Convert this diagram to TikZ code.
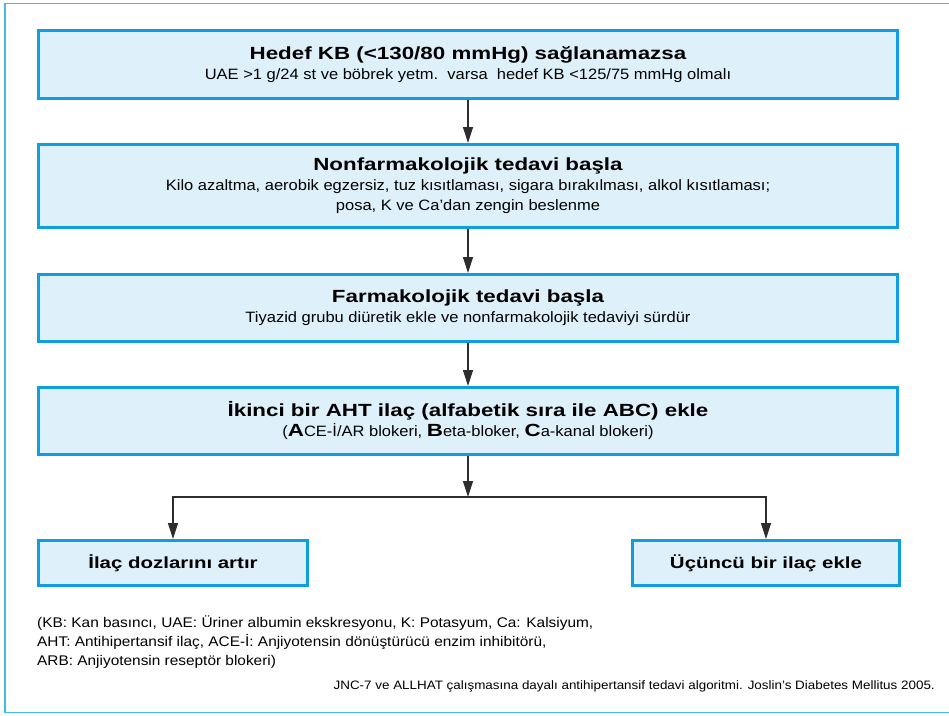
\documentclass[tikz,border=0pt]{standalone}
\usepackage{fontspec}
\setmainfont[FakeStretch=1.1]{Liberation Sans}
\newfontfamily\headfont[FakeStretch=1.27]{Liberation Sans}
\usetikzlibrary{arrows.meta}

\definecolor{framecol}{RGB}{70,185,235}
\definecolor{boxline}{RGB}{15,158,225}
\definecolor{boxfill}{RGB}{222,240,250}
\definecolor{linkcol}{RGB}{45,45,45}

\newcommand{\headsize}{\headfont\bfseries\fontsize{17.6}{20}\selectfont}
\newcommand{\smallhead}{\headfont\bfseries\fontsize{16.1}{19}\selectfont}
\newcommand{\bodysize}{\fontsize{15}{20}\selectfont}

\begin{document}
\begin{tikzpicture}[x=1pt,y=-1pt,
  stepbox/.style={rectangle, draw=boxline, line width=2.6pt, fill=boxfill,
    inner sep=0pt, align=center, font=\bodysize},
  widebox/.style={stepbox, minimum width=859.4pt},
  arr/.style={draw=linkcol, line width=1.2pt, -{Triangle[length=16pt,width=10pt]}},
  fnote/.style={inner sep=0pt, font=\fontsize{14}{19}\selectfont},
  srcnote/.style={inner sep=0pt, font=\fontsize{12.2}{14}\selectfont}]

\useasboundingbox (0,0) rectangle (949,715);
\clip (0,0) rectangle (949,715);

% open frame round the whole chart
\draw[framecol, line width=1.6pt] (960,3.5) -- (5,3.5) -- (5,712.5) -- (960,712.5);

% main steps
\node[widebox, minimum height=68.4pt] (hedef) at (468,64.5)
  {{\headsize Hedef KB (<130/80 mmHg) sağlanamazsa}\\
   UAE >1 g/24 st ve böbrek yetm.\ \ varsa\ \ hedef KB <125/75 mmHg olmalı};

\node[widebox, minimum height=83.4pt] (nonfarm) at (468,186)
  {{\headsize Nonfarmakolojik tedavi başla}\\
   Kilo azaltma, aerobik egzersiz, tuz kısıtlaması, sigara bırakılması, alkol kısıtlaması;\\
   posa, K ve Ca’dan zengin beslenme};

\node[widebox, minimum height=67.4pt] (farm) at (468,308)
  {{\headsize Farmakolojik tedavi başla}\\
   Tiyazid grubu diüretik ekle ve nonfarmakolojik tedaviyi sürdür};

\node[widebox, minimum height=67.4pt] (ikinci) at (468,421)
  {{\headsize İkinci bir AHT ilaç (alfabetik sıra ile ABC) ekle}\\
   ({\headsize A}CE-İ/AR blokeri, {\headsize B}eta-bloker, {\headsize C}a-kanal blokeri)};

% the two outcomes
\node[stepbox, minimum width=269.4pt, minimum height=45.4pt] (ilac) at (173,563)
  {\smallhead İlaç dozlarını artır};
\node[stepbox, minimum width=267.4pt, minimum height=45.4pt] (ucuncu) at (766,563)
  {\smallhead Üçüncü bir ilaç ekle};

% connectors
\draw[arr] (hedef) -- (nonfarm);
\draw[arr] (nonfarm) -- (farm);
\draw[arr] (farm) -- (ikinci);
\coordinate (split) at (468,497);
\draw[arr] (ikinci) -- (split);
\draw[arr] (split) -| (ilac.north);
\draw[arr] (split) -| (ucuncu.north);

% abbreviations and source
\node[fnote, anchor=base west] (fn1) at (37,627)
  {(KB: Kan basıncı, UAE: Üriner albumin ekskresyonu, K: Potasyum, Ca: Kalsiyum,};
\node[fnote, anchor=base west] (fn2) at (37,646)
  {AHT: Antihipertansif ilaç, ACE-İ: Anjiyotensin dönüştürücü enzim inhibitörü,};
\node[fnote, anchor=base west] (fn3) at (37,665)
  {ARB: Anjiyotensin reseptör blokeri)};
\node[srcnote, anchor=base east] (src) at (935,689)
  {JNC-7 ve ALLHAT çalışmasına dayalı antihipertansif tedavi algoritmi. Joslin’s Diabetes Mellitus 2005.};
\end{tikzpicture}
\end{document}
